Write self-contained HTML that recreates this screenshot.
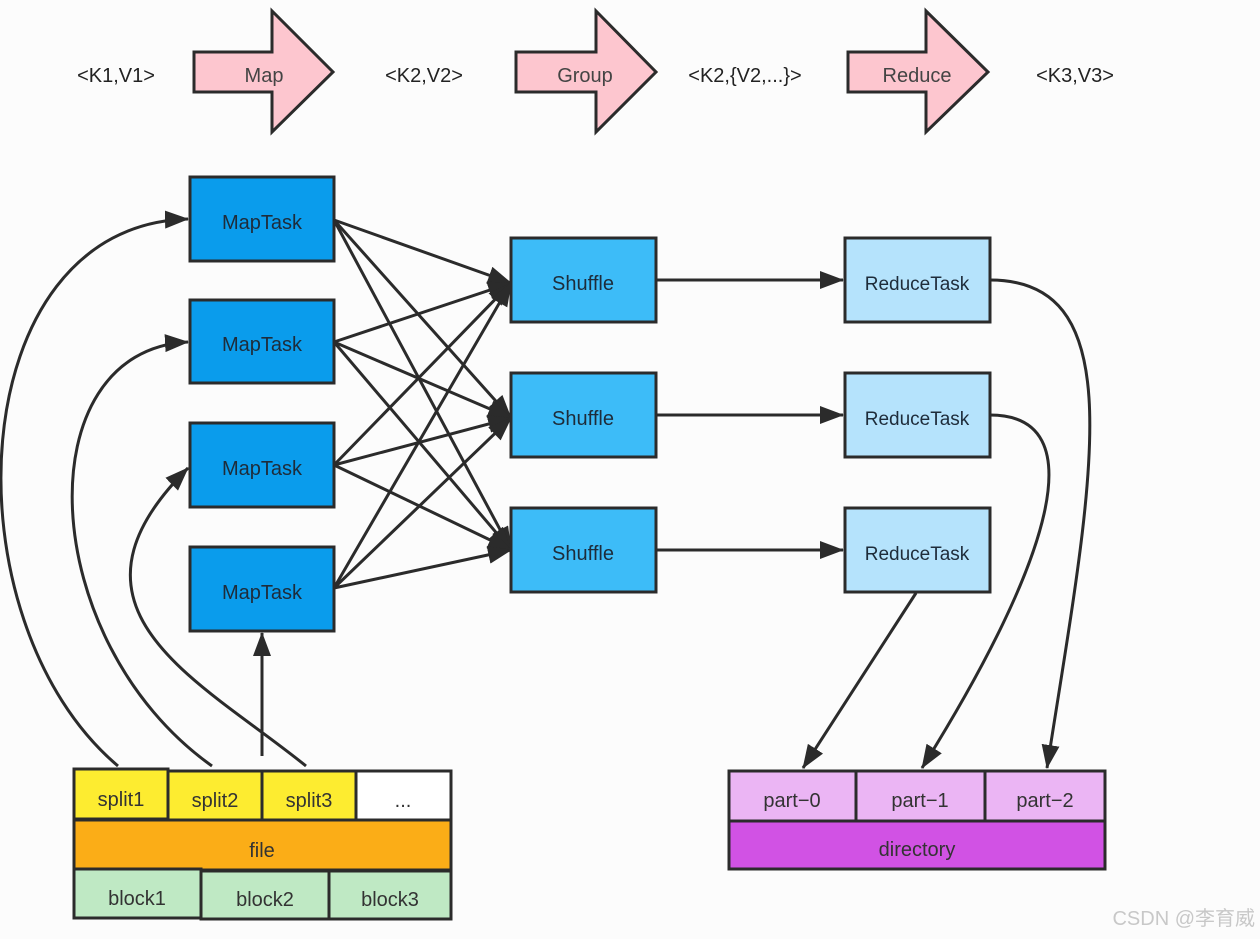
<!DOCTYPE html>
<html><head><meta charset="utf-8"><style>
html,body{margin:0;padding:0;background:#fcfcfc;}
svg{display:block;}
text{font-family:"Liberation Sans","Noto Sans CJK SC",sans-serif;}
</style></head><body>
<svg width="1260" height="939" viewBox="0 0 1260 939" xmlns="http://www.w3.org/2000/svg">
<defs>
<marker id="b" markerWidth="24" markerHeight="18" refX="23" refY="9" orient="auto" markerUnits="userSpaceOnUse">
<path d="M0,0 L24,9 L0,18 z" fill="#2b2b2b"/>
</marker>
</defs>
<rect width="1260" height="939" fill="#fcfcfc"/>
<g font-size="20" fill="#222" text-anchor="middle">
<text x="116" y="82">&lt;K1,V1&gt;</text>
<text x="424" y="82">&lt;K2,V2&gt;</text>
<text x="745" y="82">&lt;K2,{V2,...}&gt;</text>
<text x="1075" y="82">&lt;K3,V3&gt;</text>
</g>
<g fill="#fdc6cf" stroke="#2b2b2b" stroke-width="3">
<path d="M194,52 H272 V11 L333,72 L272,132 V92 H194 Z"/>
<path d="M516,52 H596 V11 L656,72 L596,132 V92 H516 Z"/>
<path d="M848,52 H926 V11 L988,72 L926,132 V92 H848 Z"/>
</g>
<g font-size="20" fill="#444" text-anchor="middle">
<text x="264" y="82">Map</text>
<text x="585" y="82">Group</text>
<text x="917" y="82">Reduce</text>
</g>
<g stroke="#2b2b2b" stroke-width="3" fill="none" marker-end="url(#b)">
<line x1="334" y1="220" x2="511" y2="283"/>
<line x1="334" y1="220" x2="511" y2="418"/>
<line x1="334" y1="220" x2="511" y2="550"/>
<line x1="334" y1="342" x2="511" y2="283"/>
<line x1="334" y1="342" x2="511" y2="418"/>
<line x1="334" y1="342" x2="511" y2="550"/>
<line x1="334" y1="465" x2="511" y2="283"/>
<line x1="334" y1="465" x2="511" y2="418"/>
<line x1="334" y1="465" x2="511" y2="550"/>
<line x1="334" y1="588" x2="511" y2="283"/>
<line x1="334" y1="588" x2="511" y2="418"/>
<line x1="334" y1="588" x2="511" y2="550"/>
</g>
<g stroke="#2b2b2b" stroke-width="3">
<rect x="190" y="177" width="144" height="84" fill="#0a9cec"/>
<rect x="190" y="300" width="144" height="83" fill="#0a9cec"/>
<rect x="190" y="423" width="144" height="84" fill="#0a9cec"/>
<rect x="190" y="547" width="144" height="84" fill="#0a9cec"/>
<rect x="511" y="238" width="145" height="84" fill="#3dbcf8"/>
<rect x="511" y="373" width="145" height="84" fill="#3dbcf8"/>
<rect x="511" y="508" width="145" height="84" fill="#3dbcf8"/>
<rect x="845" y="238" width="145" height="84" fill="#b5e3fc"/>
<rect x="845" y="373" width="145" height="84" fill="#b5e3fc"/>
<rect x="845" y="508" width="145" height="84" fill="#b5e3fc"/>
</g>
<g font-size="20" fill="#1e2c3a" text-anchor="middle">
<text x="262" y="229">MapTask</text>
<text x="262" y="351">MapTask</text>
<text x="262" y="475">MapTask</text>
<text x="262" y="599">MapTask</text>
<text x="583" y="290">Shuffle</text>
<text x="583" y="425">Shuffle</text>
<text x="583" y="560">Shuffle</text>
<text x="917" y="290" font-size="19">ReduceTask</text>
<text x="917" y="425" font-size="19">ReduceTask</text>
<text x="917" y="560" font-size="19">ReduceTask</text>
</g>
<g stroke="#2b2b2b" stroke-width="3" fill="none">
<path d="M118,766 C-55,620 -40,225 188,219" marker-end="url(#b)"/>
<path d="M212,766 C35,640 25,350 188,342" marker-end="url(#b)"/>
<path d="M306,766 C200,680 45,610 188,468" marker-end="url(#b)"/>
<line x1="262" y1="756" x2="262" y2="633" marker-end="url(#b)"/>
<line x1="656" y1="280" x2="843" y2="280" marker-end="url(#b)"/>
<line x1="656" y1="415" x2="843" y2="415" marker-end="url(#b)"/>
<line x1="656" y1="550" x2="843" y2="550" marker-end="url(#b)"/>
<path d="M990,280 C1135,280 1092,480 1047,768" marker-end="url(#b)"/>
<path d="M990,415 C1095,415 1052,560 922,768" marker-end="url(#b)"/>
<line x1="916" y1="593" x2="803" y2="768" marker-end="url(#b)"/>
</g>
<g stroke="#2b2b2b" stroke-width="3">
<rect x="74" y="820" width="377" height="50" fill="#fbad17"/>
<rect x="74" y="869" width="127" height="49" fill="#bfe9c4"/>
<rect x="201" y="871" width="128" height="48" fill="#bfe9c4"/>
<rect x="329" y="871" width="122" height="48" fill="#bfe9c4"/>
<rect x="74" y="769" width="94" height="50" fill="#fdec30"/>
<rect x="168" y="771" width="94" height="49" fill="#fdec30"/>
<rect x="262" y="771" width="94" height="49" fill="#fdec30"/>
<rect x="356" y="771" width="95" height="49" fill="#ffffff"/>
</g>
<g font-size="20" fill="#333" text-anchor="middle">
<text x="121" y="806">split1</text>
<text x="215" y="807">split2</text>
<text x="309" y="807">split3</text>
<text x="403" y="807">...</text>
<text x="262" y="857">file</text>
<text x="137" y="905">block1</text>
<text x="265" y="906">block2</text>
<text x="390" y="906">block3</text>
</g>
<g stroke="#2b2b2b" stroke-width="3">
<rect x="729" y="771" width="127" height="50" fill="#ebb5f4"/>
<rect x="856" y="771" width="129" height="50" fill="#ebb5f4"/>
<rect x="985" y="771" width="120" height="50" fill="#ebb5f4"/>
<rect x="729" y="821" width="376" height="48" fill="#d152e4"/>
</g>
<g font-size="20" fill="#333" text-anchor="middle">
<text x="792" y="807">part−0</text>
<text x="920" y="807">part−1</text>
<text x="1045" y="807">part−2</text>
<text x="917" y="856">directory</text>
</g>
<text x="1255" y="925" font-size="20" fill="#c8c8c8" text-anchor="end">CSDN @李育威</text>
</svg>
</body></html>
